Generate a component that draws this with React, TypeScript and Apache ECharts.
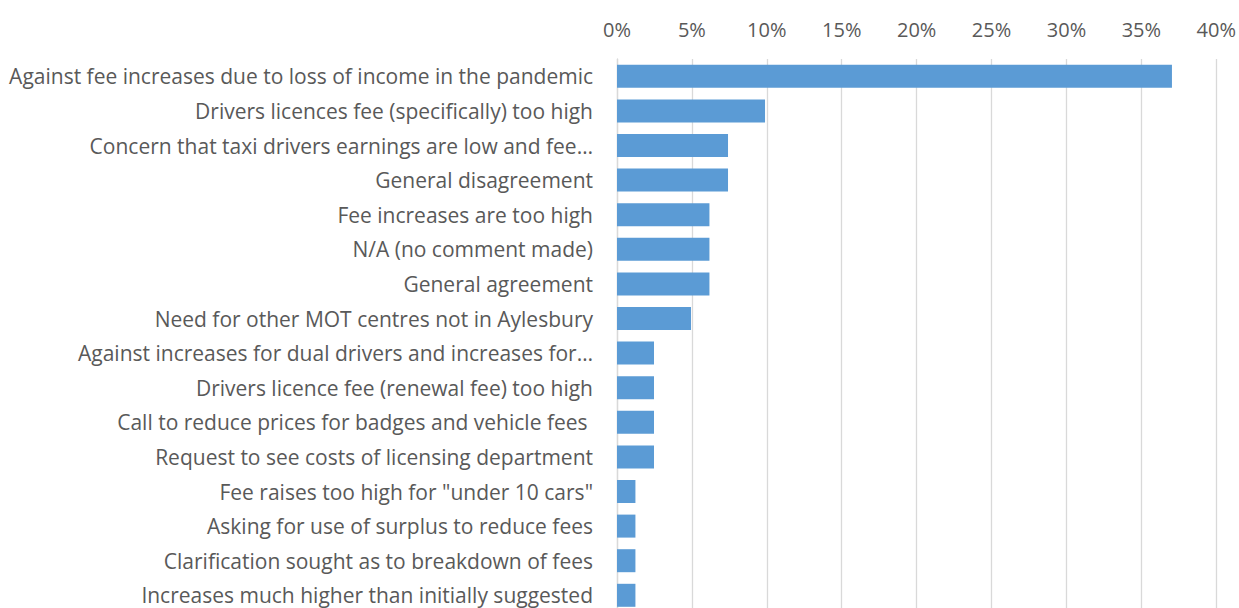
import React, { useEffect, useRef } from "react";
import * as echarts from "echarts";

const categories = [
  "Against fee increases due to loss of income in the pandemic",
  "Drivers licences fee (specifically) too high",
  "Concern that taxi drivers earnings are low and fee…",
  "General disagreement",
  "Fee increases are too high",
  "N/A (no comment made)",
  "General agreement",
  "Need for other MOT centres not in Aylesbury",
  "Against increases for dual drivers and increases for…",
  "Drivers licence fee (renewal fee) too high",
  "Call to reduce prices for badges and vehicle fees ",
  "Request to see costs of licensing department",
  "Fee raises too high for \"under 10 cars\"",
  "Asking for use of surplus to reduce fees",
  "Clarification sought as to breakdown of fees",
  "Increases much higher than initially suggested",
];

const values = [
  0.3704, 0.0988, 0.0741, 0.0741, 0.0617, 0.0617, 0.0617, 0.0494,
  0.0247, 0.0247, 0.0247, 0.0247, 0.0123, 0.0123, 0.0123, 0.0123,
];

const FONT = "'Open Sans', 'Liberation Sans', sans-serif";

export default function App() {
  const ref = useRef<HTMLDivElement>(null);
  useEffect(() => {
    if (!ref.current) return;
    const chart = echarts.init(ref.current, null, { renderer: "svg" });
    chart.setOption({
      animation: false,
      backgroundColor: "#ffffff",
      grid: { left: 617, right: 20, top: 59, height: 553.6, containLabel: false },
      xAxis: {
        type: "value",
        position: "top",
        min: 0,
        max: 0.4,
        interval: 0.05,
        axisLine: { show: false },
        axisTick: { show: false },
        splitLine: { show: true, lineStyle: { color: "#d9d9d9", width: 1.3 } },
        axisLabel: {
          color: "#595959",
          fontSize: 20,
          fontFamily: FONT,
          margin: 20,
          formatter: (v: number) => `${Math.round(v * 100)}%`,
        },
      },
      yAxis: {
        type: "category",
        inverse: true,
        data: categories,
        axisLine: { show: true, lineStyle: { color: "#d9d9d9", width: 1.3 } },
        axisTick: { show: false },
        axisLabel: {
          color: "#595959",
          fontSize: 21,
          fontFamily: FONT,
          margin: 24,
        },
      },
      series: [
        {
          type: "bar",
          data: values,
          barWidth: 23,
          itemStyle: { color: "#5b9bd5" },
        },
      ],
    });
    return () => chart.dispose();
  }, []);
  return (
    <div
      ref={ref}
      style={{ position: "fixed", left: 0, top: 0, width: 1239, height: 620, background: "#fff" }}
    />
  );
}
